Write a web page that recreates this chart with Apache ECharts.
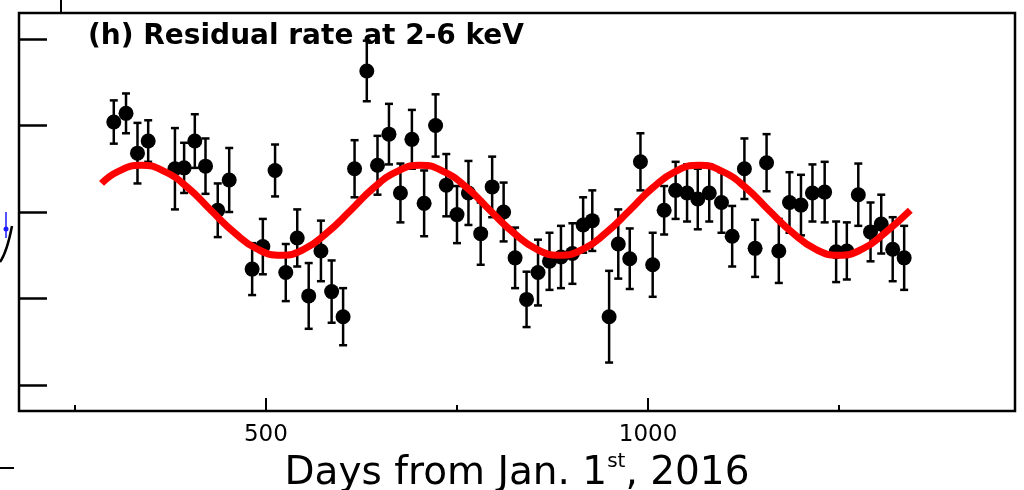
<!DOCTYPE html>
<html>
<head>
<meta charset="utf-8">
<script src="https://cdn.jsdelivr.net/npm/echarts@6/dist/echarts.min.js"></script>
<style>
html,body{margin:0;padding:0;background:#fff;}
#chart{width:1024px;height:490px;}
</style>
</head>
<body>
<div id="chart"></div>
<script>
// measured points: day, residual (arb. units, one tick = 1), half error
var days = [301,317,332,346,381,393,407,421,437,452,482,496,512,526,541,556,572,586,601,616,
            632,646,661,676,691,707,722,736,750,765,781,796,811,826,841,856,871,886,901,915,
            927,949,961,976,990,1006,1021,1036,1051,1065,1080,1096,1110,1126,1140,1155,1171,1185,1200,1215,
            1231,1246,1260,1275,1291,1305,1320,1335];
var rates = [1.04,1.14,0.68,0.82,0.50,0.51,0.82,0.53,0.02,0.37,-0.66,-0.40,0.48,-0.70,-0.30,-0.97,-0.45,-0.92,-1.21,0.50,
             1.63,0.54,0.90,0.22,0.84,0.10,1.00,0.31,-0.03,0.22,-0.25,0.29,0.00,-0.53,-1.01,-0.70,-0.57,-0.52,-0.48,-0.15,
             -0.10,-1.21,-0.37,-0.54,0.58,-0.61,0.02,0.25,0.22,0.15,0.22,0.11,-0.28,0.50,-0.42,0.57,-0.45,0.11,0.08,0.22,
             0.23,-0.46,-0.45,0.20,-0.23,-0.14,-0.43,-0.53];
var errs = [0.25,0.23,0.35,0.24,0.47,0.29,0.31,0.32,0.31,0.37,0.30,0.32,0.30,0.33,0.33,0.38,0.35,0.36,0.33,0.33,
            0.35,0.34,0.35,0.34,0.34,0.38,0.36,0.36,0.33,0.37,0.36,0.35,0.34,0.35,0.32,0.38,0.33,0.36,0.35,0.32,
            0.35,0.53,0.40,0.35,0.33,0.37,0.28,0.33,0.33,0.35,0.33,0.35,0.35,0.35,0.33,0.33,0.37,0.35,0.35,0.33,
            0.35,0.35,0.33,0.36,0.34,0.34,0.37,0.37];

// red fit curve
var fitDays = [285,307,337,367,398,428,459,489,520,550,580,611,641,672,702,732,763,793,824,854,
               884,915,945,976,1006,1036,1067,1097,1128,1158,1189,1219,1249,1280,1310,1343];
var fitVals = [0.33,0.47,0.54,0.47,0.28,0.02,-0.24,-0.43,-0.50,-0.43,-0.24,0.02,0.28,0.47,0.54,0.47,0.28,0.02,-0.24,-0.43,
               -0.50,-0.43,-0.24,0.02,0.28,0.47,0.54,0.47,0.28,0.02,-0.24,-0.43,-0.50,-0.43,-0.24,0.02];

var xMajor = [500,1000];
var xMinor = [250,750,1250];
var yTicks = [-2,-1,0,1,2];
var yMin = -2.3, yMax = 2.3;

var pts = [], bars = [], fit = [];
for (var i = 0; i < days.length; i++) {
	pts.push([days[i], rates[i]]);
	bars.push([days[i], rates[i] - errs[i], rates[i] + errs[i]]);
}
for (var j = 0; j < fitDays.length; j++) {
	fit.push([fitDays[j], fitVals[j]]);
}
// long bottom ticks at 500 and 1000 (about 0.15 of a y unit tall)
var majorTicks = xMajor.map(function (v) {
	return [{coord: [v, yMin]}, {coord: [v, yMin + 0.15]}];
});

var chart = echarts.init(document.getElementById('chart'));
var font = 'DejaVu Sans';
var option = {
	animation: false,
	grid: {left: 19, top: 13, right: 9, bottom: 79, outerBoundsMode: 'none', containLabel: false,
		show: true, borderColor: '#000', borderWidth: 2.5, backgroundColor: '#fff'},
	title: {
		text: '(h) Residual rate at 2-6 keV',
		left: 83, top: 18,
		textStyle: {fontFamily: font, fontWeight: 'bold', fontSize: 28, color: '#000'}
	},
	xAxis: {
		type: 'value', min: 177, max: 1480, position: 'bottom',
		axisLine: {show: false, onZero: false},
		splitLine: {show: false},
		axisTick: {inside: true, length: 6, customValues: xMinor, lineStyle: {color: '#000', width: 2}},
		axisLabel: {customValues: xMajor, margin: 12, fontFamily: font, fontSize: 23, color: '#000',
			backgroundColor: 'transparent', lineHeight: 24,
			formatter: function (v) { return String(v); }},
		name: '{n|Days from Jan. 1}{s|st}{n|, 2016}',
		nameLocation: 'middle',
		nameGap: 31,
		nameTextStyle: {
			rich: {
				n: {fontFamily: font, fontSize: 39, lineHeight: 44, color: '#000'},
				s: {fontFamily: font, fontSize: 20, lineHeight: 20, color: '#000', verticalAlign: 'top'}
			}
		}
	},
	yAxis: {
		type: 'value', min: yMin, max: yMax,
		axisLine: {show: false, onZero: false},
		splitLine: {show: false},
		axisLabel: {show: false},
		axisTick: {inside: true, length: 28, customValues: yTicks, lineStyle: {color: '#000', width: 2.5}}
	},
	graphic: [
		// bits of the neighbouring panels cut by the crop
		{type: 'line', shape: {x1: 61, y1: 0, x2: 61, y2: 12}, style: {stroke: '#000', lineWidth: 2}},
		{type: 'line', shape: {x1: 0, y1: 468, x2: 14, y2: 468}, style: {stroke: '#000', lineWidth: 2}},
		{type: 'bezierCurve', shape: {x1: 0, y1: 262, x2: 12, y2: 226, cpx1: 7, cpy1: 252}, style: {stroke: '#000', lineWidth: 2.5, fill: null}},
		{type: 'line', shape: {x1: 6, y1: 212, x2: 6, y2: 238}, style: {stroke: '#1a1aff', lineWidth: 1.5}},
		{type: 'circle', shape: {cx: 6, cy: 229, r: 2.5}, style: {fill: '#1a1aff'}}
	],
	series: [{
		type: 'custom',
		data: bars,
		z: 2,
		renderItem: function (params, api) {
			var x = api.value(0);
			var lo = api.coord([x, api.value(1)]);
			var hi = api.coord([x, api.value(2)]);
			var w = 4;
			var st = {stroke: '#000', lineWidth: 2.5};
			return {
				type: 'group',
				children: [
					{type: 'line', shape: {x1: lo[0], y1: lo[1], x2: hi[0], y2: hi[1]}, style: st},
					{type: 'line', shape: {x1: lo[0] - w, y1: lo[1], x2: lo[0] + w, y2: lo[1]}, style: st},
					{type: 'line', shape: {x1: hi[0] - w, y1: hi[1], x2: hi[0] + w, y2: hi[1]}, style: st}
				]
			};
		}
	}, {
		type: 'scatter',
		data: pts,
		z: 3,
		symbol: 'circle',
		symbolSize: 15,
		itemStyle: {color: '#000', opacity: 1},
		markLine: {
			silent: true,
			symbol: 'none',
			label: {show: false},
			lineStyle: {color: '#000', width: 2, type: 'solid'},
			data: majorTicks
		}
	}, {
		type: 'line',
		data: fit,
		z: 4,
		smooth: true,
		showSymbol: false,
		lineStyle: {color: '#ff0000', width: 7}
	}]
};
chart.setOption(option);
</script>
</body>
</html>
